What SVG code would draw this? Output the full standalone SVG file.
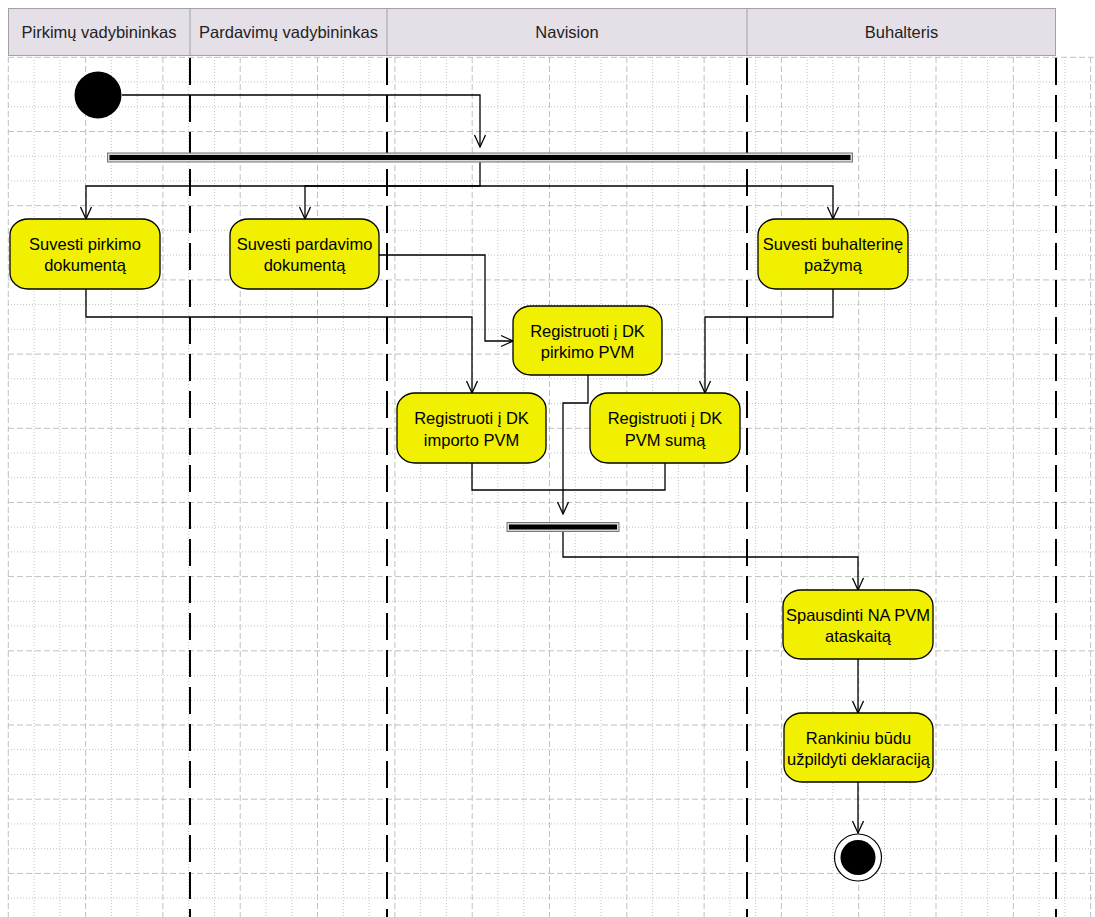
<svg xmlns="http://www.w3.org/2000/svg" width="1095" height="917" viewBox="0 0 1095 917">
<style>
.minor{fill:none;stroke:#c4c4c4;stroke-width:1;stroke-dasharray:1 2}
.major{fill:none;stroke:#c0c0c0;stroke-width:1;stroke-dasharray:6 3}
.lane{fill:none;stroke:#000;stroke-width:2;stroke-dasharray:27 10}
.hdr{fill:#e5e0e8;stroke:#a0a0a6;stroke-width:1}
.hsep{stroke:#a0a0a6;stroke-width:1}
.ht{font-family:"Liberation Sans",Arial,sans-serif;font-size:16.5px;fill:#222;text-anchor:middle}
.act{fill:#f0f000;stroke:#000;stroke-width:1.3}
.t{font-family:"Liberation Sans",Arial,sans-serif;font-size:16.5px;fill:#000;text-anchor:middle}
.c{fill:none;stroke:#000;stroke-width:1.3}
.ca{fill:none;stroke:#000;stroke-width:1.3;marker-end:url(#arr)}
</style>
<defs>
<marker id="arr" markerUnits="userSpaceOnUse" markerWidth="16" markerHeight="14" refX="13" refY="7" orient="auto">
<path d="M1,1.5 L13,7 L1,12.5" fill="none" stroke="#000" stroke-width="1.3"/>
</marker>
</defs>
<rect width="1095" height="917" fill="#fff"/>
<g id="grid">
<path class="minor" d="M34.1,57V917M59.8,57V917M111.4,57V917M137.2,57V917M188.7,57V917M214.5,57V917M266,57V917M291.8,57V917M343.3,57V917M369.1,57V917M420.6,57V917M446.4,57V917M497.9,57V917M523.7,57V917M575.2,57V917M601,57V917M652.6,57V917M678.3,57V917M729.9,57V917M755.6,57V917M807.2,57V917M832.9,57V917M884.5,57V917M910.3,57V917M961.8,57V917M987.6,57V917M1039.1,57V917M1064.9,57V917"/>
<path class="minor" d="M8,82H1095M8,106.8H1095M8,156.2H1095M8,181H1095M8,230.4H1095M8,255.1H1095M8,304.6H1095M8,329.3H1095M8,378.8H1095M8,403.5H1095M8,453H1095M8,477.7H1095M8,527.2H1095M8,551.9H1095M8,601.4H1095M8,626.1H1095M8,675.6H1095M8,700.3H1095M8,749.7H1095M8,774.5H1095M8,823.9H1095M8,848.7H1095M8,898.1H1095"/>
<path class="major" d="M8.3,57V917M85.6,57V917M162.9,57V917M240.2,57V917M317.5,57V917M394.9,57V917M472.2,57V917M549.5,57V917M626.8,57V917M704.1,57V917M781.4,57V917M858.7,57V917M936,57V917M1013.3,57V917M1090.6,57V917"/>
<path class="major" d="M8,57.3H1095M8,131.5H1095M8,205.7H1095M8,279.9H1095M8,354.1H1095M8,428.3H1095M8,502.4H1095M8,576.6H1095M8,650.8H1095M8,725H1095M8,799.2H1095M8,873.4H1095"/>
</g>
<g id="swimlanes">
<rect class="hdr" x="8.5" y="8.5" width="1047" height="47"/>
<line class="hsep" x1="190" y1="8.5" x2="190" y2="55.5"/>
<line class="hsep" x1="387" y1="8.5" x2="387" y2="55.5"/>
<line class="hsep" x1="747" y1="8.5" x2="747" y2="55.5"/>
<text class="ht" x="99" y="37.5">Pirkimų vadybininkas</text>
<text class="ht" x="288.5" y="37.5">Pardavimų vadybininkas</text>
<text class="ht" x="567" y="37.5">Navision</text>
<text class="ht" x="901.5" y="37.5">Buhalteris</text>
<path class="lane" d="M190,58V917M387,58V917M747,58V917M1056,58V917"/>
</g>
<g id="connectors">
<path class="ca" d="M122,95H480V147"/>
<path class="ca" d="M480,162V186H86V219"/>
<path class="ca" d="M480,186H305V219"/>
<path class="ca" d="M480,186H833V219"/>
<path class="ca" d="M379,255H485V341H513"/>
<path class="ca" d="M86,289V317H472V393"/>
<path class="ca" d="M833,289V317H705V393"/>
<path class="ca" d="M588,375V403H563V514"/>
<path class="c" d="M472,463V490H665V463"/>
<path class="ca" d="M563,532V557H858V590"/>
<path class="ca" d="M858,659V713"/>
<path class="ca" d="M858,782V833"/>
</g>
<g id="start">
<circle cx="98" cy="95" r="23.5" fill="#000"/>
</g>
<g id="fork">
<rect x="107.5" y="153" width="745" height="9" fill="#d8d8d8" stroke="#777" stroke-width="1"/>
<rect x="109.5" y="155" width="741" height="5" fill="#000"/>
</g>
<g id="n_pirkimo_dok">
<rect class="act" x="10" y="219" width="150" height="70" rx="18" ry="16"/>
<text class="t" x="85" y="250">Suvesti pirkimo</text>
<text class="t" x="85" y="271">dokumentą</text>
</g>
<g id="n_pardavimo_dok">
<rect class="act" x="230" y="219" width="149" height="70" rx="18" ry="16"/>
<text class="t" x="304.5" y="250">Suvesti pardavimo</text>
<text class="t" x="304.5" y="271">dokumentą</text>
</g>
<g id="n_buhalterine">
<rect class="act" x="758" y="219" width="150" height="70" rx="18" ry="16"/>
<text class="t" x="833" y="250">Suvesti buhalterinę</text>
<text class="t" x="833" y="271">pažymą</text>
</g>
<g id="n_reg_pirkimo">
<rect class="act" x="513" y="306" width="149" height="69" rx="18" ry="16"/>
<text class="t" x="587.5" y="336.5">Registruoti į DK</text>
<text class="t" x="587.5" y="358">pirkimo PVM</text>
</g>
<g id="n_reg_importo">
<rect class="act" x="397" y="393" width="149" height="70" rx="18" ry="16"/>
<text class="t" x="471.5" y="424">Registruoti į DK</text>
<text class="t" x="471.5" y="445.5">importo PVM</text>
</g>
<g id="n_reg_suma">
<rect class="act" x="590" y="393" width="150" height="70" rx="18" ry="16"/>
<text class="t" x="665" y="424">Registruoti į DK</text>
<text class="t" x="665" y="445.5">PVM sumą</text>
</g>
<g id="join">
<rect x="507" y="522.5" width="112" height="9" fill="#d8d8d8" stroke="#777" stroke-width="1"/>
<rect x="509" y="524.5" width="108" height="5" fill="#000"/>
</g>
<g id="n_spausdinti">
<rect class="act" x="783" y="590" width="150" height="69" rx="18" ry="16"/>
<text class="t" x="858" y="620.5">Spausdinti NA PVM</text>
<text class="t" x="858" y="642">ataskaitą</text>
</g>
<g id="n_rankiniu">
<rect class="act" x="784" y="713" width="149" height="69" rx="18" ry="16"/>
<text class="t" x="858.5" y="743.5">Rankiniu būdu</text>
<text class="t" x="858.5" y="765">užpildyti deklaraciją</text>
</g>
<g id="end">
<circle cx="858" cy="857.5" r="23.5" fill="#fff" stroke="#000" stroke-width="1.2"/>
<circle cx="858" cy="857.5" r="17.5" fill="#000"/>
</g>
</svg>
